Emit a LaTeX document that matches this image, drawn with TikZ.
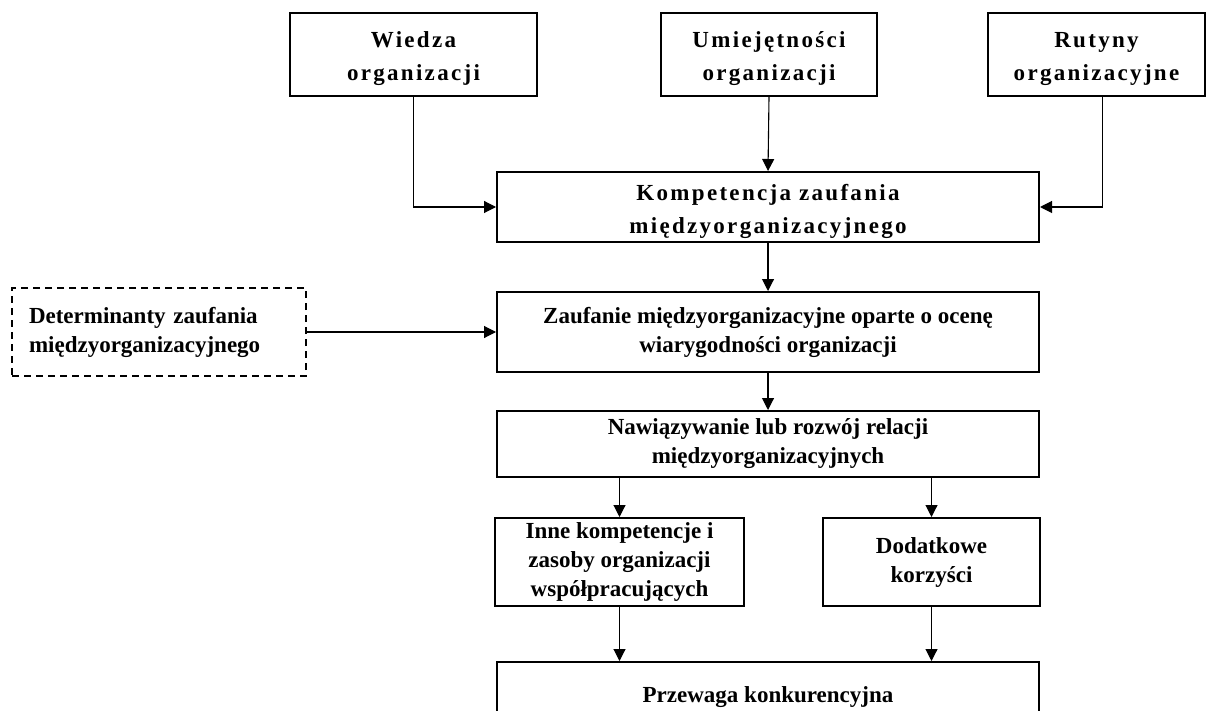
\documentclass[tikz,border=0pt]{standalone}
\usepackage{fontspec}
\setmainfont{Liberation Serif}
\newfontfamily\spacedfont[LetterSpace=10]{Liberation Serif}
\usetikzlibrary{arrows.meta,calc}

\begin{document}
\begin{tikzpicture}[x=1pt,y=-1pt,
  box/.style={draw=black, line width=2pt, fill=white, inner sep=0pt, align=center,
    font=\fontsize{23}{29}\selectfont\bfseries},
  spacedbox/.style={box, font=\fontsize{23}{33}\selectfont\spacedfont\bfseries, text height=58pt},
  dashbox/.style={box, dash pattern=on 7pt off 5pt, align=left, text width=260pt, inner xsep=17pt},
  arr/.style={draw=black, line width=1.1pt, -{Triangle[length=12pt,width=12pt]}}
]
\useasboundingbox (0,0) rectangle (1206,711);

% top row: sources of the competence
\node[spacedbox, minimum width=247pt, minimum height=83pt] (wiedza) at (413.5,54.5) {Wiedza\\organizacji};
\node[spacedbox, minimum width=216pt, minimum height=83pt] (umiej) at (769,54.5) {Umiejętności\\organizacji};
\node[spacedbox, minimum width=217pt, minimum height=83pt] (rutyny) at (1096.5,54.5) {Rutyny\\organizacyjne};

% main column
\node[spacedbox, minimum width=542pt, minimum height=70pt] (komp) at (768,207) {Kompetencja zaufania\\międzyorganizacyjnego};
\node[box, minimum width=542pt, minimum height=80pt] (zauf) at (768,332) {Zaufanie międzyorganizacyjne oparte o ocenę\\wiarygodności organizacji};
\node[dashbox, minimum height=88pt] (det) at (159,332) {Determinanty zaufania\\międzyorganizacyjnego};
\node[box, minimum width=542pt, minimum height=66pt] (nawiaz) at (768,444) {Nawiązywanie lub rozwój relacji\\międzyorganizacyjnych};
\node[box, minimum width=249pt, minimum height=88pt] (inne) at (619.5,562) {Inne kompetencje i\\zasoby organizacji\\współpracujących};
\node[box, minimum width=217pt, minimum height=88pt] (dod) at (931.5,562) {Dodatkowe\\korzyści};
\node[box, minimum width=542pt, minimum height=70pt] (przew) at (768,697) {Przewaga konkurencyjna};

% connectors
\draw[arr] (wiedza.south) |- (komp.west);
\draw[arr] (umiej.south) -- (komp.north);
\draw[arr] ([xshift=6pt]rutyny.south) |- (komp.east);
\draw[arr] (komp.south) -- (zauf.north);
\draw[arr] (det.east) -- (zauf.west);
\draw[arr] (zauf.south) -- (nawiaz.north);
\draw[arr] (nawiaz.south -| inne.north) -- (inne.north);
\draw[arr] (nawiaz.south -| dod.north) -- (dod.north);
\draw[arr] (inne.south) -- (inne.south |- przew.north);
\draw[arr] (dod.south) -- (dod.south |- przew.north);
\end{tikzpicture}
\end{document}
